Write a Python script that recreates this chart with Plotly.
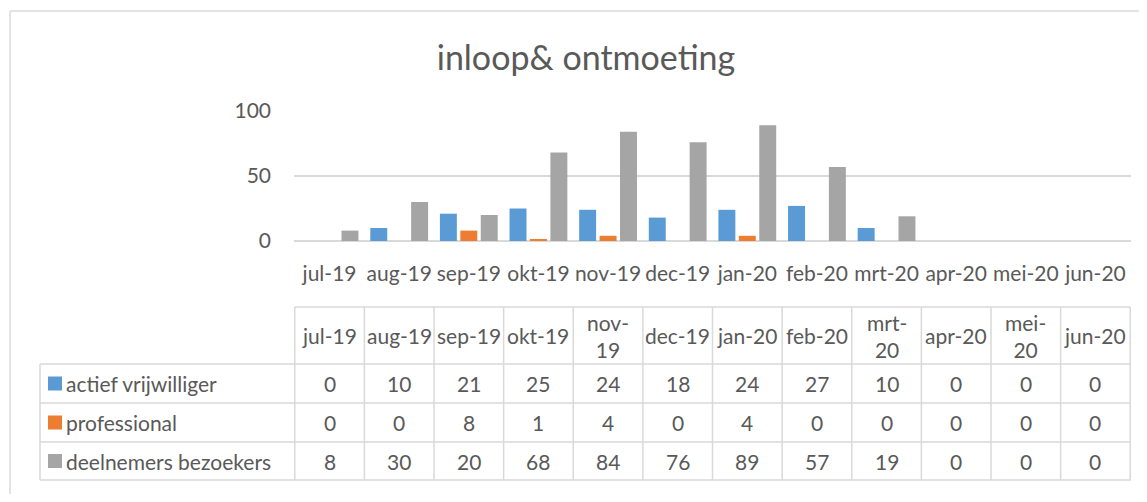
import plotly.graph_objects as go

months = ["jul-19", "aug-19", "sep-19", "okt-19", "nov-19", "dec-19",
          "jan-20", "feb-20", "mrt-20", "apr-20", "mei-20", "jun-20"]
series_names = ["actief vrijwilliger", "professional", "deelnemers bezoekers"]
actief = [0, 10, 21, 25, 24, 18, 24, 27, 10, 0, 0, 0]
professional = [0, 0, 8, 1, 4, 0, 4, 0, 0, 0, 0, 0]
deelnemers = [8, 30, 20, 68, 84, 76, 89, 57, 19, 0, 0, 0]
wrapped_headers = ["nov-19", "mrt-20", "mei-20"]

colors = ["#5B9BD5", "#ED7D31", "#A5A5A5"]
TXT = "#595959"
GRID = "#D9D9D9"
FONT = "Lato"
FS = 21

OFF = 8  # browser body margin
W, H = 1147 - 2 * OFF, 502 - 2 * OFF
L, R = 294 - OFF, 1131 - OFF
TOP, BOT = 111 - OFF, 241 - OFF


def px(xp):
    return (xp - OFF - L) / (R - L)


def py(yp):
    return (BOT - (yp - OFF)) / (BOT - TOP)


fig = go.Figure()
for name, vals, c in zip(series_names, [actief, professional, deelnemers], colors):
    fig.add_trace(go.Bar(x=months, y=vals, name=name, marker=dict(color=c, line=dict(width=0)),
                         showlegend=False))

shapes = []
annotations = []

# chart border: only the top and left edges fall inside the picture
shapes.append(dict(type="line", xref="paper", yref="paper", x0=px(10), x1=px(1200), y0=py(11), y1=py(11),
                   line=dict(color=GRID, width=1.5), layer="below"))
shapes.append(dict(type="line", xref="paper", yref="paper", x0=px(10), x1=px(10), y0=py(11), y1=py(560),
                   line=dict(color=GRID, width=1.5), layer="below"))

row_y = [307, 364, 403, 442, 480]
n = len(months)
shapes.append(dict(type="line", xref="x", yref="paper", x0=-0.5, x1=n - 0.5, y0=py(row_y[0]), y1=py(row_y[0]),
                   line=dict(color=GRID, width=1.5)))
for yy in row_y[1:]:
    shapes.append(dict(type="line", xref="paper", yref="paper", x0=px(40), x1=1, y0=py(yy), y1=py(yy),
                       line=dict(color=GRID, width=1.5)))
for i in range(n + 1):
    shapes.append(dict(type="line", xref="x", yref="paper", x0=i - 0.5, x1=i - 0.5, y0=py(row_y[0]), y1=py(row_y[-1]),
                       line=dict(color=GRID, width=1.5)))
shapes.append(dict(type="line", xref="paper", yref="paper", x0=px(40), x1=px(40), y0=py(row_y[1]), y1=py(row_y[-1]),
                   line=dict(color=GRID, width=1.5)))

for i, m in enumerate(months):
    label = m.replace("-", "-<br>") if m in wrapped_headers else m
    annotations.append(dict(x=i, xref="x", y=py((row_y[0] + row_y[1]) / 2), yref="paper", text=label,
                            showarrow=False, font=dict(size=FS, color=TXT, family=FONT), yanchor="middle"))

for r, (name, vals, c) in enumerate(zip(series_names, [actief, professional, deelnemers], colors)):
    yc = (row_y[r + 1] + row_y[r + 2]) / 2
    for i, v in enumerate(vals):
        annotations.append(dict(x=i, xref="x", y=py(yc), yref="paper", text=str(v), showarrow=False,
                                font=dict(size=FS, color=TXT, family=FONT), yanchor="middle"))
    shapes.append(dict(type="rect", xref="paper", yref="paper", x0=px(48), x1=px(62), y0=py(yc + 7), y1=py(yc - 7),
                       fillcolor=c, line=dict(width=0)))
    annotations.append(dict(x=px(64), xref="paper", y=py(yc), yref="paper", text=name, showarrow=False,
                            xanchor="left", yanchor="middle", font=dict(size=FS, color=TXT, family=FONT)))

fig.update_layout(
    width=W, height=H,
    margin=dict(l=L, r=W - R, t=TOP, b=H - BOT),
    paper_bgcolor="white", plot_bgcolor="white",
    barmode="group", bargap=0.12, bargroupgap=0.17,
    title=dict(text="inloop& ontmoeting", x=(586 - OFF) / W, xanchor="center", xref="container",
               y=1 - (58 - OFF) / H, yanchor="middle", yref="container",
               font=dict(size=34, color=TXT, family=FONT)),
    font=dict(family=FONT, color=TXT),
    xaxis=dict(type="category", showgrid=False, showline=False, ticks="", tickfont=dict(size=FS, color=TXT),
               ticklabelstandoff=18),
    yaxis=dict(range=[0, 100], tickvals=[0, 50, 100], showgrid=True, gridcolor=GRID, gridwidth=1.5,
               zeroline=True, zerolinecolor=GRID, zerolinewidth=1.5, showline=False, ticks="",
               tickfont=dict(size=FS, color=TXT), ticklabelstandoff=22),
    shapes=shapes, annotations=annotations,
)

fig.write_html("out.html")
